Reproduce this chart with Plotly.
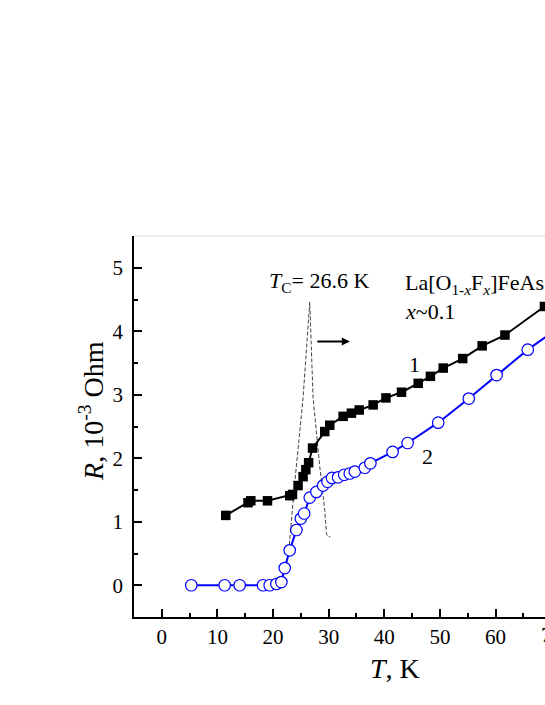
import plotly.graph_objects as go

# sample 1 (filled squares)
t1 = [11.5, 15.5, 16.0, 19.0, 23.0, 23.5, 24.5, 25.4, 25.9, 26.4, 27.1, 29.3, 30.2,
      32.6, 34.1, 35.5, 38.0, 40.3, 43.1, 46.1, 48.3, 50.6, 54.1, 57.6, 61.7, 68.8]
r1 = [1.10, 1.30, 1.33, 1.33, 1.41, 1.43, 1.57, 1.71, 1.82, 1.93, 2.16, 2.42, 2.52,
      2.66, 2.71, 2.76, 2.84, 2.95, 3.04, 3.18, 3.29, 3.42, 3.57, 3.77, 3.94, 4.39]

# sample 2 (open circles)
t2 = [5.3, 11.3, 14.0, 18.2, 19.4, 20.6, 21.5, 22.1, 23.0, 24.2, 25.0, 25.6, 26.6,
      27.8, 29.0, 29.8, 30.6, 31.7, 32.8, 33.8, 34.7, 36.5, 37.5, 41.5, 44.2, 49.7,
      55.2, 60.2, 65.8, 71.0]
r2 = [0.0, 0.0, 0.0, 0.0, 0.0, 0.02, 0.05, 0.27, 0.55, 0.87, 1.05, 1.13, 1.38,
      1.47, 1.57, 1.63, 1.69, 1.70, 1.74, 1.76, 1.79, 1.85, 1.92, 2.10, 2.24, 2.56,
      2.94, 3.31, 3.71, 4.03]

# dR/dT peak (dashed)
t_der = [22.8, 23.0, 23.9, 25.4, 26.6, 27.2, 28.4, 29.3, 29.6, 29.8, 30.3]
r_der = [0.45, 0.71, 1.61, 2.95, 4.46, 2.95, 1.87, 1.18, 0.82, 0.77, 0.76]

FONT = "Liberation Serif"

fig = go.Figure()

fig.add_trace(go.Scatter(x=t_der, y=r_der, mode="lines",
                         line=dict(color="#444444", width=1, dash="4px,2px"),
                         showlegend=False))
fig.add_trace(go.Scatter(x=t1, y=r1, mode="lines+markers",
                         line=dict(color="black", width=2),
                         marker=dict(symbol="square", size=9.5, color="black"),
                         showlegend=False))
fig.add_trace(go.Scatter(x=t2, y=r2, mode="lines+markers",
                         line=dict(color="#0000ff", width=2),
                         marker=dict(symbol="circle", size=11.5, color="white",
                                     line=dict(color="#0000ff", width=1.2)),
                         showlegend=False))

axis_common = dict(showline=True, linecolor="black", linewidth=1.5, mirror=False,
                   ticks="inside", ticklen=8, tickwidth=1.5, tickcolor="black",
                   showgrid=False, zeroline=False,
                   tickfont=dict(family=FONT, size=21, color="black"))

fig.update_xaxes(range=[-5, 68.9], dtick=10, tick0=0,
                 minor=dict(dtick=5, ticks="inside", ticklen=4, tickwidth=1.5, tickcolor="black"),
                 **axis_common)
fig.update_yaxes(range=[-0.5, 5.5], dtick=1, tick0=0, ticklabelstandoff=5,
                 minor=dict(dtick=0.5, ticks="inside", ticklen=4, tickwidth=1.5, tickcolor="black"),
                 **axis_common)

txt = dict(family=FONT, size=22, color="black")
fig.add_annotation(x=33.8, y=3.84, ax=27.7, ay=3.84, xref="x", yref="y", axref="x", ayref="y",
                   text="", showarrow=True, arrowhead=2, arrowsize=0.8, arrowwidth=2,
                   arrowcolor="black", standoff=0, startstandoff=0)
fig.add_annotation(x=28.2, y=4.77, xref="x", yref="y", showarrow=False,
                   xanchor="center", yanchor="middle",
                   text="<i>T</i><sub>C</sub>= 26.6 K", font=txt)
fig.add_annotation(x=43.3, y=4.75, xref="x", yref="y", showarrow=False,
                   xanchor="left", yanchor="middle",
                   text="La[O<sub>1-<i>x</i></sub>F<sub><i>x</i></sub>]FeAs", font=txt)
fig.add_annotation(x=43.3, y=4.31, xref="x", yref="y", showarrow=False,
                   xanchor="left", yanchor="middle",
                   text="<i>x</i>~0.1", font=txt)
fig.add_annotation(x=45.5, y=3.48, xref="x", yref="y", showarrow=False, text="1", font=txt)
fig.add_annotation(x=47.8, y=2.03, xref="x", yref="y", showarrow=False, text="2", font=txt)

# tick label cut by the page edge
fig.add_annotation(x=75 / 73.9, y=-0.047, xref="paper", yref="paper", showarrow=False,
                   xanchor="center", yanchor="middle",
                   text="70", font=dict(family=FONT, size=21, color="black"))

# axis titles
fig.add_annotation(x=0.635, y=-0.134, xref="paper", yref="paper", showarrow=False,
                   xanchor="center", yanchor="middle",
                   text="<i>T</i>, K", font=dict(family=FONT, size=28, color="black"))
fig.add_annotation(x=-0.102, y=0.541, xref="paper", yref="paper", showarrow=False,
                   xanchor="center", yanchor="middle", textangle=-90,
                   text="<i>R</i>, 10<sup>-3</sup> Ohm", font=dict(family=FONT, size=28, color="black"))

fig.add_shape(type="line", xref="paper", yref="paper", x0=0, x1=1, y0=1, y1=1,
              line=dict(color="#d8d8d8", width=1))

fig.update_layout(width=545, height=705, plot_bgcolor="white", paper_bgcolor="white",
                  margin=dict(l=134, r=0, t=236, b=88), showlegend=False)

fig.write_html("out.html", config={"displayModeBar": False},
               post_script="document.body.style.margin='0';document.body.style.overflow='hidden';")
